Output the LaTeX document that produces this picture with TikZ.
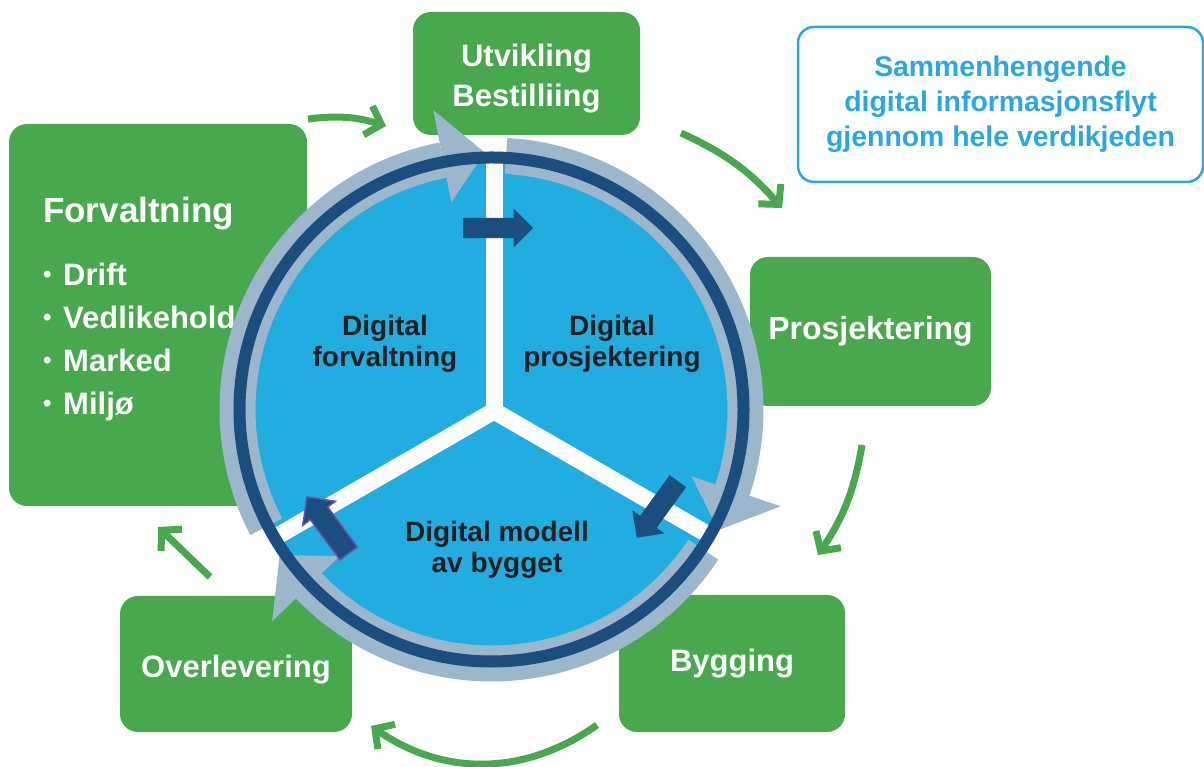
\documentclass[tikz,border=0pt]{standalone}
\usepackage{fontspec}
\setmainfont{Liberation Sans}
\usetikzlibrary{positioning, arrows.meta, shapes.arrows, calc}
\definecolor{LeafGreen}{HTML}{48A84D}
\definecolor{DiscBlue}{HTML}{22ADE0}
\definecolor{RingNavy}{HTML}{1B4D7E}
\definecolor{BandGrey}{HTML}{9CB6CB}
\definecolor{InkDark}{HTML}{231F20}
\definecolor{SkyText}{HTML}{29A8E0}
\definecolor{EdgePurple}{HTML}{6B4E9E}
\newcommand{\dotitem}[1]{\makebox[20pt][l]{\raisebox{3pt}{\fontsize{24}{24}\selectfont •}}#1}

\begin{document}
\begin{tikzpicture}[x=1pt, y=1pt,
  gbox/.style={rounded corners=18pt, fill=LeafGreen, text=white, align=center,
               font=\bfseries\fontsize{31}{40}\selectfont, inner sep=0pt},
  infobox/.style={rounded corners=16pt, draw=SkyText, line width=2.5pt, fill=white,
               text=SkyText, align=center, font=\bfseries\fontsize{28.4}{35}\selectfont},
  phase/.style={align=center, text=InkDark, font=\bfseries\fontsize{28}{31}\selectfont},
  divider/.style={white, line width=17pt, line cap=round},
  band/.style={BandGrey, line width=36pt},
  ring/.style={RingNavy, line width=12pt},
  flow/.style={-{Straight Barb[length=14pt, width=30pt]}, LeafGreen, line width=7pt},
  blockarrow/.style={single arrow, single arrow head extend=9.5pt, minimum height=70pt,
               inner sep=10pt, fill=RingNavy, anchor=tail, rotate=#1},
]
  \useasboundingbox (0,0) rectangle (1204,767);

  % process steps round the cycle
  \node[gbox, minimum width=227pt, minimum height=123pt] (utv) at (526.5,693.5) {};
  \node[text=white, align=center, font=\bfseries\fontsize{31}{40}\selectfont]
    (utvtext) at (526.5,688.5) {Utvikling\\Bestilliing};
  \node[gbox, minimum width=241pt, minimum height=149pt,
        font=\bfseries\fontsize{32}{40}\selectfont] (prosj) at (870.5,435.5) {Prosjektering};
  \node[gbox, minimum width=226pt, minimum height=137pt] (bygg) at (732,103.5) {Bygging};
  \node[gbox, minimum width=232pt, minimum height=136pt, text height=34pt] (overl)
    at (236,103) {Overlevering};
  \node[gbox, minimum width=298pt, minimum height=382pt] (forv) at (158,452) {};
  \node[anchor=north west, inner sep=0pt, text width=240pt, align=left, text=white,
        font=\bfseries\fontsize{31}{43.3}\selectfont] (forvlist) at (43,570.5)
    {{\fontsize{35}{40}\selectfont Forvaltning}\\[19.7pt]
     \dotitem{Drift}\\ \dotitem{Vedlikehold}\\ \dotitem{Marked}\\ \dotitem{Miljø}};

  \node[infobox, minimum width=405pt, minimum height=155pt] (info) at (1000.5,662.5)
    {Sammenhengende\\digital informasjonsflyt\\gjennom hele verdikjeden};

  % green arrows between the steps
  \coordinate (f1a) at (308,648);  \coordinate (f1b) at (386,641);
  \coordinate (f2a) at (681,634);  \coordinate (f2b) at (782,559);
  \coordinate (f3a) at (862,322);  \coordinate (f3b) at (818,212);
  \coordinate (f4a) at (597,42);   \coordinate (f4b) at (371,41);
  \coordinate (f5a) at (210,190);  \coordinate (f5b) at (158,240);
  \draw[flow] (f1a) to[bend left=12] (f1b);
  \draw[flow] (f2a) to[bend left=12] (f2b);
  \draw[flow] (f3a) to[bend left=12] (f3b);
  \draw[flow] (f4a) to[bend left=35] (f4b);
  \draw[flow] (f5a) -- (f5b);

  % the model disc
  \coordinate (ctr) at (491.5,357.5);
  \coordinate (junc) at (494,356);
  \fill[DiscBlue] (ctr) circle[radius=249];
  \foreach \a in {90,-30,210}
    \draw[divider] (junc) -- ++(\a:254);

  % circulating band with its heads
  \foreach \s/\b/\t in {207.5/101/91.5, 86.7/-18.5/-28, -33.5/-136/-145.5} {
    \draw[band] (ctr) ++(\s:254) arc[start angle=\s, end angle=\b, radius=254];
    \fill[BandGrey] ($(ctr)+(\b:211)$) -- ($(ctr)+(\t:257)$) -- ($(ctr)+(\b:305)$) -- cycle;
  }
  \draw[ring] (ctr) circle[radius=252];

  \node[blockarrow=0] (toprosj) at (463,539) {};
  \node[blockarrow=234] (tomodell) at (678,286) {};
  \node[blockarrow=126.4, draw=EdgePurple, line width=1.5pt] (toforv) at (349,213) {};

  \node[phase] (dforv) at (385,423.3) {Digital\\forvaltning};
  \node[phase] (dprosj) at (612,423.3) {Digital\\prosjektering};
  \node[phase] (dmodell) at (497,217.2) {Digital modell\\av bygget};
\end{tikzpicture}
\end{document}
